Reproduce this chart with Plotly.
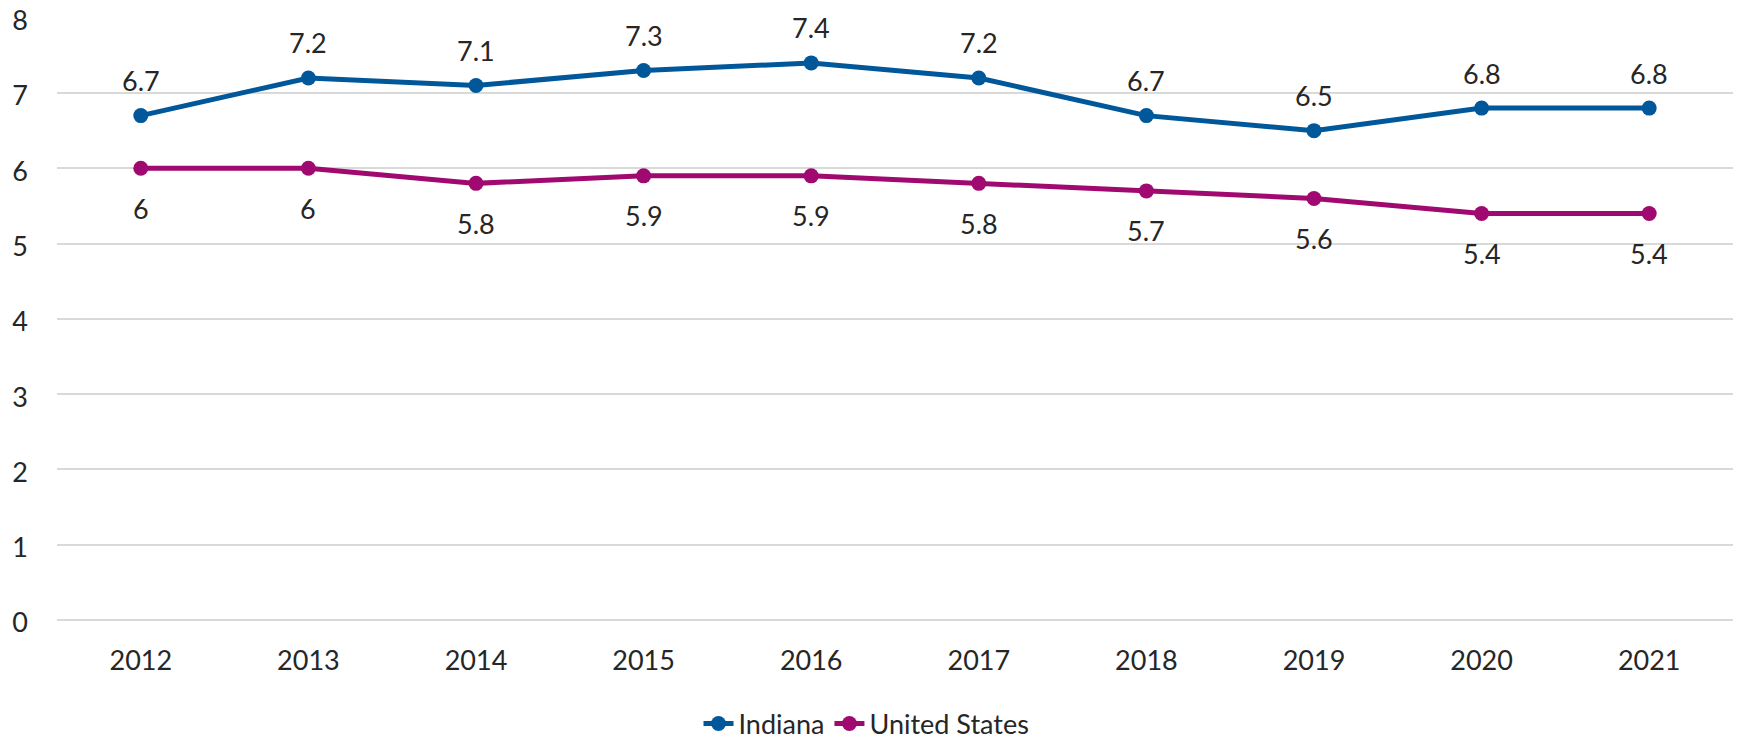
import plotly.graph_objects as go

years = ["2012", "2013", "2014", "2015", "2016", "2017", "2018", "2019", "2020", "2021"]
indiana = [6.7, 7.2, 7.1, 7.3, 7.4, 7.2, 6.7, 6.5, 6.8, 6.8]
united_states = [6.0, 6.0, 5.8, 5.9, 5.9, 5.8, 5.7, 5.6, 5.4, 5.4]
y_ticks = [0, 1, 2, 3, 4, 5, 6, 7, 8]

BLUE = "#00589A"
MAGENTA = "#A0096F"
TEXT = "#262626"
FONT = "Lato, 'Open Sans', sans-serif"
FS = 27

def fmt(v):
    return f"{v:g}"

fig = go.Figure()
fig.add_trace(go.Scatter(
    x=years, y=indiana, name="Indiana", mode="lines+markers",
    line=dict(color=BLUE, width=5), marker=dict(color=BLUE, size=15),
))
fig.add_trace(go.Scatter(
    x=years, y=united_states, name="United States", mode="lines+markers",
    line=dict(color=MAGENTA, width=5), marker=dict(color=MAGENTA, size=15),
))

# data labels: x given as the category index on the category axis
annotations = []
for i, v in enumerate(indiana):
    annotations.append(dict(x=i, y=v, xref="x", yref="y", text=fmt(v), showarrow=False,
                            yshift=35, font=dict(size=FS, color=TEXT, family=FONT)))
for i, v in enumerate(united_states):
    annotations.append(dict(x=i, y=v, xref="x", yref="y", text=fmt(v), showarrow=False,
                            yshift=-40, font=dict(size=FS, color=TEXT, family=FONT)))

fig.update_layout(
    width=1742, height=739,
    margin=dict(l=49, r=17, t=9, b=127, autoexpand=False),
    paper_bgcolor="white", plot_bgcolor="white",
    font=dict(family=FONT, size=FS, color=TEXT),
    showlegend=True,
    annotations=annotations,
    legend=dict(orientation="h", x=0.483, xanchor="center",
                y=-0.1725, yanchor="middle",
                font=dict(size=FS, color=TEXT),
                traceorder="normal"),
)
fig.update_xaxes(type="category", range=[-0.5, 9.5], showgrid=False, showline=False,
                 zeroline=False, ticks="", tickfont=dict(size=FS, color=TEXT),
                 ticklabelstandoff=22)
fig.update_yaxes(range=[0, 8.01], tickvals=y_ticks, showgrid=True, gridcolor="#D9D9D9",
                 gridwidth=1.5, zeroline=True, zerolinecolor="#D9D9D9", zerolinewidth=1.5,
                 showline=False, ticks="", tickfont=dict(size=FS, color=TEXT),
                 ticklabelstandoff=28, ticklabeloverflow="allow", ticklabelshift=3)

fig.write_html("out.html")
